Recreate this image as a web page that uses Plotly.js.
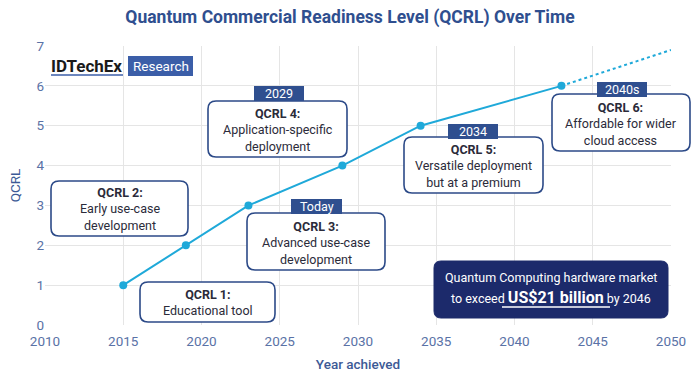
<!DOCTYPE html>
<html>
<head>
<meta charset="utf-8">
<script src="https://cdn.plot.ly/plotly-3.0.1.min.js"></script>
<style>html,body{margin:0;padding:0;background:#fff;}#chart{width:700px;height:379px;}</style>
</head>
<body>
<div id="chart"></div>
<script>
// ---- data ----
var years = [2015, 2019, 2023, 2029, 2034, 2043];
var levels = [1, 2, 3, 4, 5, 6];
var projYears = [2043, 2050];
var projLevels = [6, 6.9];
var xTicks = [2010, 2015, 2020, 2025, 2030, 2035, 2040, 2045, 2050];
var yTicks = [0, 1, 2, 3, 4, 5, 6, 7];
var boxTitles = ['QCRL 1:', 'QCRL 2:', 'QCRL 3:', 'QCRL 4:', 'QCRL 5:', 'QCRL 6:'];
var boxTexts = ['Educational tool', 'Early use-case<br>development', 'Advanced use-case<br>development',
  'Application-specific<br>deployment', 'Versatile deployment<br>but at a premium', 'Affordable for wider<br>cloud access'];
var boxTags = ['', '', 'Today', '2029', '2034', '2040s'];

// ---- layout helpers (pixel -> paper) ----
var L = 45, R = 671, T = 46, B = 325;
function X(px) { return (px - L) / (R - L); }
function Y(py) { return (B - py) / (B - T); }
function rrect(x0, y0, x1, y1, r, fill, line, lw) {
  var a = X(x0), b = X(x1), c = Y(y0), d = Y(y1);
  var rx = r / (R - L), ry = r / (B - T);
  var p = 'M' + (a + rx) + ',' + c + ' L' + (b - rx) + ',' + c + ' Q' + b + ',' + c + ' ' + b + ',' + (c - ry) +
    ' L' + b + ',' + (d + ry) + ' Q' + b + ',' + d + ' ' + (b - rx) + ',' + d +
    ' L' + (a + rx) + ',' + d + ' Q' + a + ',' + d + ' ' + a + ',' + (d + ry) +
    ' L' + a + ',' + (c - ry) + ' Q' + a + ',' + c + ' ' + (a + rx) + ',' + c + ' Z';
  return {type: 'path', xref: 'paper', yref: 'paper', path: p, fillcolor: fill,
    line: {color: line, width: lw}, layer: 'above'};
}
function rect(x0, y0, x1, y1, fill) {
  return {type: 'rect', xref: 'paper', yref: 'paper', x0: X(x0), x1: X(x1), y0: Y(y1), y1: Y(y0),
    fillcolor: fill, line: {width: 0}, layer: 'above'};
}

var navy = '#2c4a88';
var txt = '#2b2b3a';
var boxes = [
  [140, 282, 275, 322], [51, 181, 188, 236], [247, 213, 385, 270],
  [208, 101, 347, 157], [404, 137, 543, 193], [552, 94, 690, 151]
];
var tags = [null, null, [291, 199, 342, 214], [254, 86, 304, 101], [448, 124, 498, 139], [597, 82, 647, 97]];

var shapes = [], annotations = [];
for (var i = 0; i < boxes.length; i++) {
  var bx = boxes[i];
  shapes.push(rrect(bx[0], bx[1], bx[2], bx[3], 8, '#ffffff', navy, 1.6));
  annotations.push({xref: 'paper', yref: 'paper', x: X((bx[0] + bx[2]) / 2), y: Y((bx[1] + bx[3]) / 2 + (tags[i] ? 1 : 0)),
    xanchor: 'center', yanchor: 'middle', showarrow: false,
    text: '<b>' + boxTitles[i] + '</b><br>' + boxTexts[i],
    font: {family: 'Roboto, sans-serif', size: 12.5, color: txt}});
  if (tags[i]) {
    var tg = tags[i];
    shapes.push(rect(tg[0], tg[1], tg[2], tg[3], '#2f4f8f'));
    annotations.push({xref: 'paper', yref: 'paper', x: X((tg[0] + tg[2]) / 2), y: Y((tg[1] + tg[3]) / 2),
      xanchor: 'center', yanchor: 'middle', showarrow: false, text: boxTags[i],
      font: {family: 'Roboto, sans-serif', size: 12.5, color: '#ffffff'}});
  }
}

// market box
shapes.push(rrect(434, 261, 668, 318, 7, '#1c2a6b', '#1c2a6b', 1));
annotations.push({xref: 'paper', yref: 'paper', x: X(551), y: Y(277), xanchor: 'center', yanchor: 'middle',
  showarrow: false, text: 'Quantum Computing hardware market',
  font: {family: 'Roboto, sans-serif', size: 12.5, color: '#ffffff'}});
annotations.push({xref: 'paper', yref: 'paper', x: X(551), y: Y(297), xanchor: 'center', yanchor: 'middle',
  showarrow: false, text: 'to exceed <span style="font-size:16px"><b>US$21 billion</b></span> by 2046',
  font: {family: 'Roboto, sans-serif', size: 12.5, color: '#ffffff'}});
shapes.push({type: 'line', xref: 'paper', yref: 'paper', x0: X(502), x1: X(610), y0: Y(307), y1: Y(307),
  line: {color: '#ffffff', width: 1.5}, layer: 'above'});

// logo
annotations.push({xref: 'paper', yref: 'paper', x: X(49), y: Y(66), xanchor: 'left', yanchor: 'middle',
  showarrow: false, text: '<b>IDTechEx</b>', font: {family: 'Roboto, sans-serif', size: 17, color: '#1a1a1a'}});
shapes.push({type: 'line', xref: 'paper', yref: 'paper', x0: X(51), x1: X(123), y0: Y(75), y1: Y(75),
  line: {color: '#3b5ea8', width: 1.5}, layer: 'above'});
shapes.push(rect(128, 56, 193, 76, '#3b5ea8'));
annotations.push({xref: 'paper', yref: 'paper', x: X(160.5), y: Y(66), xanchor: 'center', yanchor: 'middle',
  showarrow: false, text: 'Research', font: {family: 'Roboto, sans-serif', size: 13.5, color: '#ffffff'}});

var traces = [
  {x: years, y: levels, type: 'scatter', mode: 'lines+markers',
    line: {color: '#1fa9d9', width: 2}, marker: {color: '#1fa9d9', size: 8}, hoverinfo: 'skip'},
  {x: projYears, y: projLevels, type: 'scatter', mode: 'lines',
    line: {color: '#1fa9d9', width: 2, dash: 'dot'}, hoverinfo: 'skip'}
];

var axisFont = {family: 'Roboto, sans-serif', size: 13.5, color: '#5a72a6'};
var layout = {
  width: 700, height: 379,
  margin: {l: L, r: 700 - R, t: T, b: 379 - B},
  paper_bgcolor: '#ffffff', plot_bgcolor: '#ffffff',
  showlegend: false,
  title: {text: '<b>Quantum Commercial Readiness Level (QCRL) Over Time</b>',
    font: {family: 'Roboto, sans-serif', size: 17.5, color: '#2f4f8f'},
    x: 0.5, xanchor: 'center', y: 1 - 17 / 379, yanchor: 'middle'},
  xaxis: {range: [2010, 2050], tickvals: xTicks, ticktext: xTicks.map(String),
    showgrid: true, gridcolor: '#e5e5e5', gridwidth: 1, zeroline: false,
    showline: false, ticks: '', tickfont: axisFont, ticklabelstandoff: 6,
    title: {text: 'Year achieved', font: {family: 'Roboto, sans-serif', size: 13.5, color: '#3d5a96', weight: 500}, standoff: 12}},
  yaxis: {range: [0, 7], tickvals: yTicks, showgrid: true, gridcolor: '#e5e5e5', gridwidth: 1,
    zeroline: false, showline: false, ticks: '', tickfont: axisFont,
    title: {text: 'QCRL', font: {family: 'Roboto, sans-serif', size: 13.5, color: '#3d5a96'}, standoff: 12}},
  shapes: shapes,
  annotations: annotations
};

Plotly.newPlot('chart', traces, layout, {displayModeBar: false, staticPlot: true});
</script>
</body>
</html>
